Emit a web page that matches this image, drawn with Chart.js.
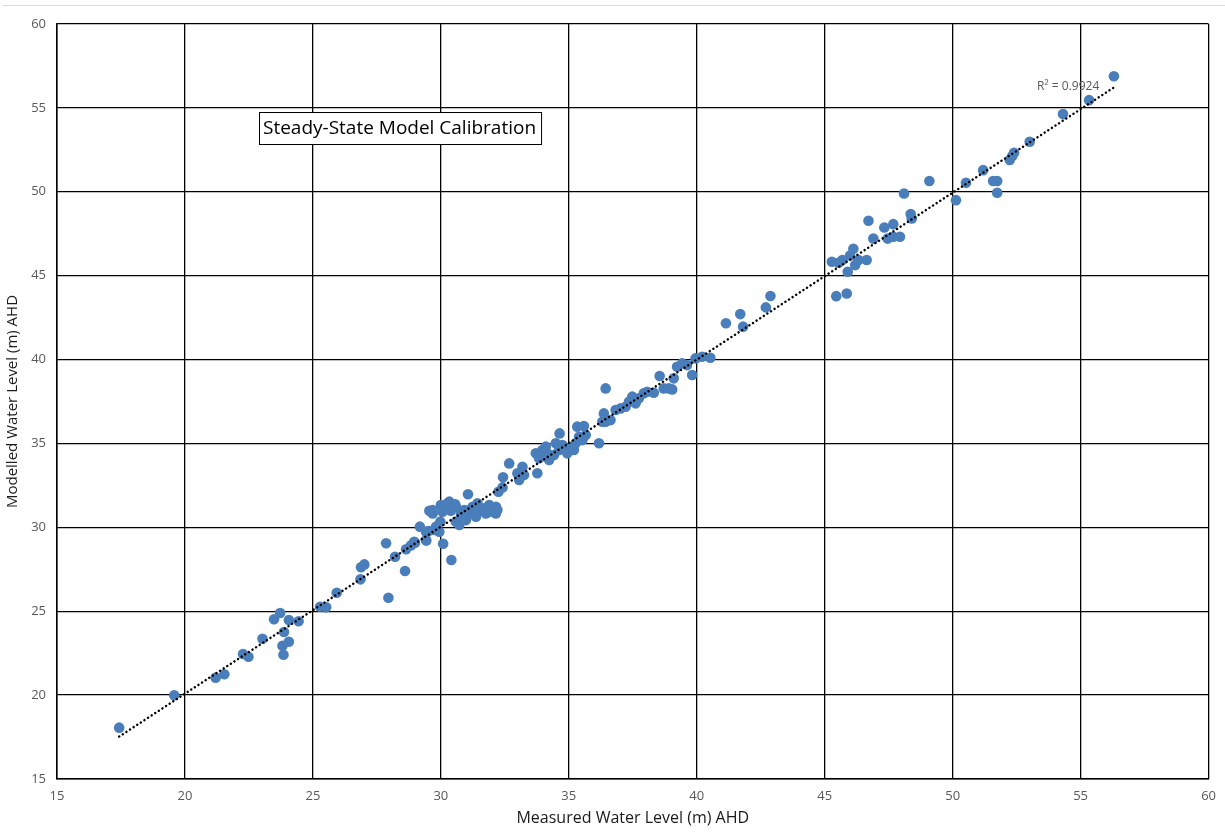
<!DOCTYPE html>
<html>
<head>
<meta charset="utf-8">
<title>Steady-State Model Calibration</title>
<script src="https://cdn.jsdelivr.net/npm/chart.js@4.4.0/dist/chart.umd.min.js"></script>
<style>
  html, body { margin: 0; padding: 0; background: #fff; }
  .page-rule { position: absolute; left: 3px; right: 0; top: 5px; height: 1px; background: #dcdcdc; }
  #wrap { position: absolute; left: 0; top: 0; width: 1225px; height: 832px; }
</style>
</head>
<body>
<div class="page-rule"></div>
<div id="wrap"><canvas id="calChart" width="1225" height="832"></canvas></div>
<script>
  // ---- Data ----
  const measured = [
    17.43, 19.58, 21.20, 21.54, 22.27, 22.48, 23.03, 23.48, 23.72, 24.06,
    24.44, 23.87, 24.06, 23.81, 23.85, 25.28, 25.52, 25.93, 26.86, 26.88,
    27.01, 27.86, 27.95, 28.21, 28.60, 28.64, 28.83, 28.99, 29.18, 29.43,
    29.52, 29.74, 29.98, 29.94, 30.09, 30.41, 29.55, 29.68, 30.00, 30.26,
    30.56, 31.06, 30.07, 30.39, 30.72, 30.59, 30.85, 31.11, 31.37, 31.43,
    31.76, 31.89, 32.15, 32.21, 32.25, 32.43, 29.68, 29.42, 29.81, 29.42,
    28.96, 30.59, 30.98, 31.17, 31.37, 31.50, 32.02, 31.69, 31.24, 30.91,
    30.78, 32.15, 30.33, 32.41, 32.67, 32.99, 33.19, 33.06, 33.25, 33.71,
    33.84, 33.77, 33.97, 34.10, 34.16, 34.23, 34.42, 34.49, 34.64, 34.62,
    34.75, 34.88, 34.94, 35.07, 35.20, 35.27, 35.40, 35.33, 35.59, 35.53,
    35.66, 36.18, 36.37, 36.44, 36.44, 36.31, 36.63, 36.83, 37.02, 37.22,
    37.35, 37.48, 37.61, 37.74, 37.93, 38.06, 38.32, 38.55, 38.71, 38.91,
    39.04, 39.10, 39.23, 39.43, 39.62, 39.82, 39.95, 40.21, 40.53, 41.14,
    41.70, 41.81, 42.70, 42.88, 45.45, 45.86, 45.28, 45.54, 45.69, 45.90,
    45.99, 46.12, 46.19, 46.32, 46.64, 46.71, 46.90, 47.33, 47.46, 47.68,
    47.68, 47.94, 48.10, 48.36, 48.40, 49.09, 50.13, 50.52, 51.19, 51.58,
    51.74, 51.74, 52.23, 52.33, 52.40, 53.01, 54.31, 55.33, 56.30
  ];
  const modelled = [
    18.06, 19.99, 21.04, 21.24, 22.45, 22.29, 23.36, 24.52, 24.89, 24.48,
    24.40, 23.76, 23.18, 22.94, 22.41, 25.27, 25.23, 26.10, 26.90, 27.62,
    27.79, 29.05, 25.80, 28.25, 27.40, 28.69, 28.92, 29.08, 30.04, 29.22,
    29.78, 29.84, 30.34, 29.74, 29.02, 28.05, 30.99, 31.03, 31.33, 31.43,
    31.37, 31.97, 30.93, 30.99, 30.14, 30.34, 30.54, 31.03, 30.83, 31.43,
    30.83, 31.33, 30.83, 31.03, 32.12, 32.98, 30.83, 29.74, 30.04, 29.24,
    29.14, 31.23, 30.43, 30.83, 30.63, 31.03, 30.93, 31.13, 31.23, 31.03,
    30.83, 31.23, 31.53, 32.38, 33.81, 33.22, 33.61, 32.82, 33.12, 34.41,
    34.11, 33.22, 34.61, 34.81, 34.41, 34.01, 34.31, 35.01, 35.60, 34.61,
    34.91, 34.61, 34.41, 34.71, 34.61, 35.01, 35.40, 36.00, 36.04, 35.20,
    35.50, 35.01, 36.79, 36.29, 38.28, 36.29, 36.39, 36.99, 37.09, 37.19,
    37.49, 37.79, 37.39, 37.69, 37.99, 38.08, 38.02, 39.02, 38.28, 38.28,
    38.22, 38.88, 39.57, 39.77, 39.67, 39.08, 40.07, 40.17, 40.11, 42.16,
    42.71, 41.96, 43.11, 43.79, 43.78, 43.94, 45.83, 45.77, 45.93, 45.23,
    46.20, 46.60, 45.63, 45.93, 45.93, 48.27, 47.21, 47.87, 47.21, 48.07,
    47.32, 47.32, 49.90, 48.67, 48.41, 50.64, 49.50, 50.54, 51.29, 50.64,
    50.64, 49.94, 51.89, 52.13, 52.32, 52.98, 54.63, 55.46, 56.89
  ];
  const axisTicks = [15, 20, 25, 30, 35, 40, 45, 50, 55, 60];
  const rSquaredLabel = 'R² = 0.9924';
  const chartTitle = 'Steady-State Model Calibration';

  // ---- Linear trendline (least squares, like Excel) ----
  function trendline(xs, ys) {
    const n = xs.length;
    let sx = 0, sy = 0, sxx = 0, sxy = 0;
    for (let i = 0; i < n; i++) {
      sx += xs[i]; sy += ys[i];
      sxx += xs[i] * xs[i]; sxy += xs[i] * ys[i];
    }
    const m = (n * sxy - sx * sy) / (n * sxx - sx * sx);
    const b = (sy - m * sx) / n;
    const x0 = Math.min(...xs), x1 = Math.max(...xs);
    return [{ x: x0, y: m * x0 + b }, { x: x1, y: m * x1 + b }];
  }

  const points = measured.map((x, i) => ({ x: x, y: modelled[i] }));
  const FONT = "'Open Sans', 'Noto Sans', sans-serif";

  // ---- Text annotations: title box + R² ----
  const annotations = {
    id: 'annotations',
    afterDatasetsDraw(chart) {
      const { ctx, chartArea: a, scales } = chart;
      ctx.save();

      // R² label near the end of the trendline
      ctx.font = '12px ' + FONT;
      ctx.fillStyle = '#595959';
      ctx.textBaseline = 'middle';
      ctx.textAlign = 'left';
      ctx.fillText(rSquaredLabel, scales.x.getPixelForValue(53.3), scales.y.getPixelForValue(56.25));

      // Title box
      ctx.font = '19px ' + FONT;
      const w = ctx.measureText(chartTitle).width;
      const bx = a.left + 202, by = a.top + 88, bw = w + 9, bh = 32;
      ctx.fillStyle = '#fff';
      ctx.fillRect(bx, by, bw, bh);
      ctx.strokeStyle = '#000';
      ctx.lineWidth = 1;
      ctx.strokeRect(bx + 0.5, by + 0.5, bw, bh);
      ctx.fillStyle = '#000';
      ctx.textAlign = 'left';
      ctx.fillText(chartTitle, bx + 4, by + bh / 2 + 1);
      ctx.restore();
    }
  };

  const axisCommon = {
    type: 'linear',
    min: 15,
    max: 60,
    afterBuildTicks: s => { s.ticks = axisTicks.map(v => ({ value: v })); },
    grid: { color: '#000', lineWidth: 1.3, drawTicks: false },
    border: { color: '#000', width: 1.5 }
  };

  new Chart(document.getElementById('calChart'), {
    type: 'scatter',
    data: {
      datasets: [
        {
          type: 'line',
          label: 'Linear trend',
          data: trendline(measured, modelled),
          borderColor: '#000',
          borderWidth: 2.4,
          borderDash: [0.1, 4.2],
          borderCapStyle: 'round',
          pointRadius: 0,
          fill: false
        },
        {
          label: 'Calibration points',
          data: points,
          backgroundColor: '#4a7ebb',
          borderColor: '#4a7ebb',
          borderWidth: 0,
          pointRadius: 5.3
        }
      ]
    },
    options: {
      responsive: false,
      animation: false,
      devicePixelRatio: 1,
      layout: { padding: { top: 24, right: 14, left: 0, bottom: 0 } },
      plugins: { legend: { display: false }, tooltip: { enabled: false } },
      scales: {
        x: Object.assign({}, axisCommon, {
          ticks: { color: '#595959', font: { size: 13, family: FONT }, padding: 9, maxRotation: 0 },
          title: { display: true, text: 'Measured Water Level (m) AHD', color: '#1a1a1a', font: { size: 16, family: FONT }, padding: { top: 1 } },
          afterFit: s => { s.height = 53; }
        }),
        y: Object.assign({}, axisCommon, {
          ticks: { color: '#595959', font: { size: 13, family: FONT }, padding: 11 },
          title: { display: true, text: 'Modelled Water Level (m) AHD', color: '#1a1a1a', font: { size: 15, family: FONT }, padding: { bottom: 1 } },
          afterFit: s => { s.width = 57; }
        })
      }
    },
    plugins: [annotations]
  });
</script>
</body>
</html>
